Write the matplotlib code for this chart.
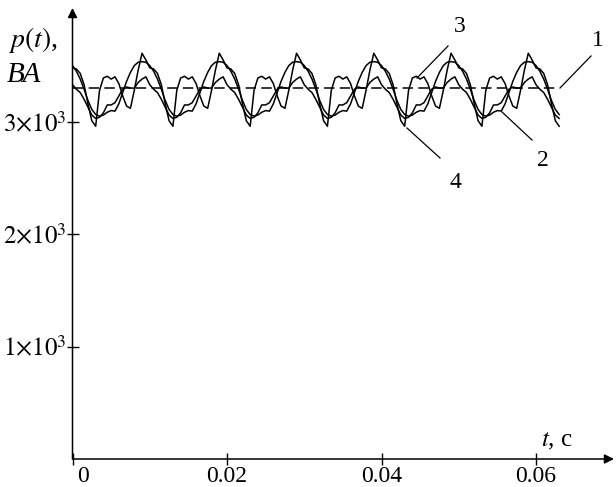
import numpy as np
import matplotlib
matplotlib.use("Agg")
import matplotlib.pyplot as plt
from matplotlib.transforms import ScaledTranslation

plt.rcParams['font.family'] = ['Liberation Serif', 'DejaVu Serif']
plt.rcParams['mathtext.fontset'] = 'stix'
plt.rcParams['lines.scale_dashes'] = False

# ---- data ----
t = np.round(np.arange(127) * 0.0005, 4)   # time, s

p_avg = 3300   # curve 1 (dashed, constant)

p2 = [3500, 3450, 3380, 3290, 3190, 3110, 3065, 3050, 3060, 3085, 3100, 3095, 3160, 3260, 3360, 3440, 3500, 3530,
      3535, 3530, 3500, 3450, 3380, 3290, 3190, 3110, 3065, 3050, 3060, 3085, 3100, 3095, 3160, 3260, 3360, 3440, 3500, 3530,
      3535, 3530, 3500, 3450, 3380, 3290, 3190, 3110, 3065, 3050, 3060, 3085, 3100, 3095, 3160, 3260, 3360, 3440, 3500, 3530,
      3535, 3530, 3500, 3450, 3380, 3290, 3190, 3110, 3065, 3050, 3060, 3085, 3100, 3095, 3160, 3260, 3360, 3440, 3500, 3530,
      3535, 3530, 3500, 3450, 3380, 3290, 3190, 3110, 3065, 3050, 3060, 3085, 3100, 3095, 3160, 3260, 3360, 3440, 3500, 3530,
      3535, 3530, 3500, 3450, 3380, 3290, 3190, 3110, 3065, 3050, 3060, 3085, 3100, 3095, 3160, 3260, 3360, 3440, 3500, 3530,
      3535, 3530, 3500, 3450, 3380, 3290, 3190, 3110, 3065]

p3 = [3330, 3290, 3260, 3200, 3130, 3060, 3030, 3040, 3080, 3150, 3150, 3170, 3230, 3290, 3310, 3300, 3300, 3350,
      3380, 3400, 3330, 3290, 3260, 3200, 3130, 3060, 3030, 3040, 3080, 3150, 3150, 3170, 3230, 3290, 3310, 3300, 3300, 3350,
      3380, 3400, 3330, 3290, 3260, 3200, 3130, 3060, 3030, 3040, 3080, 3150, 3150, 3170, 3230, 3290, 3310, 3300, 3300, 3350,
      3380, 3400, 3330, 3290, 3260, 3200, 3130, 3060, 3030, 3040, 3080, 3150, 3150, 3170, 3230, 3290, 3310, 3300, 3300, 3350,
      3380, 3400, 3330, 3290, 3260, 3200, 3130, 3060, 3030, 3040, 3080, 3150, 3150, 3170, 3230, 3290, 3310, 3300, 3300, 3350,
      3380, 3400, 3330, 3290, 3260, 3200, 3130, 3060, 3030, 3040, 3080, 3150, 3150, 3170, 3230, 3290, 3310, 3300, 3300, 3350,
      3380, 3400, 3330, 3290, 3260, 3200, 3130, 3060, 3030]

p4 = [3480, 3470, 3430, 3330, 3160, 3010, 2960, 3280, 3390, 3405, 3380, 3400, 3340, 3230, 3140, 3120, 3280, 3460,
      3610, 3550, 3480, 3470, 3430, 3330, 3160, 3010, 2960, 3280, 3390, 3405, 3380, 3400, 3340, 3230, 3140, 3120, 3280, 3460,
      3610, 3550, 3480, 3470, 3430, 3330, 3160, 3010, 2960, 3280, 3390, 3405, 3380, 3400, 3340, 3230, 3140, 3120, 3280, 3460,
      3610, 3550, 3480, 3470, 3430, 3330, 3160, 3010, 2960, 3280, 3390, 3405, 3380, 3400, 3340, 3230, 3140, 3120, 3280, 3460,
      3610, 3550, 3480, 3470, 3430, 3330, 3160, 3010, 2960, 3280, 3390, 3405, 3380, 3400, 3340, 3230, 3140, 3120, 3280, 3460,
      3610, 3550, 3480, 3470, 3430, 3330, 3160, 3010, 2960, 3280, 3390, 3405, 3380, 3400, 3340, 3230, 3140, 3120, 3280, 3460,
      3610, 3550, 3480, 3470, 3430, 3330, 3160, 3010, 2960]

x_ticks = [0, 0.02, 0.04, 0.06]
x_tick_labels = ["0", "0.02", "0.04", "0.06"]
y_ticks = [1000, 2000, 3000]
y_tick_labels = [r"$1{\times}10^{3}$", r"$2{\times}10^{3}$", r"$3{\times}10^{3}$"]

# ---- figure ----
W, H = 616, 487
fig = plt.figure(figsize=(W / 100, H / 100), dpi=100)
x0, y0 = 72.5, 459
ax = fig.add_axes([x0 / W, (H - y0) / H, (614 - x0) / W, (y0 - 8) / H])
ax.set_xlim(0, (614 - x0) / 7725)
ax.set_ylim(0, (y0 - 8) / 112.4 * 1000)

lw = 1.1
ax.plot([t[0], t[-1]], [p_avg, p_avg], color='k', lw=lw, dashes=(7.5, 3.8))
ax.plot(t, p2, color='k', lw=lw)
ax.plot(t, p3, color='k', lw=lw)
ax.plot(t, p4, color='k', lw=lw)

for s in ax.spines.values():
    s.set_visible(False)
ax.annotate('', xy=(1.0, 0), xytext=(0, 0), xycoords='axes fraction',
            arrowprops=dict(arrowstyle='-|>', lw=1.1, color='k', mutation_scale=14,
                            shrinkA=0, shrinkB=0))
ax.annotate('', xy=(0, 1.0), xytext=(0, 0), xycoords='axes fraction',
            arrowprops=dict(arrowstyle='-|>', lw=1.1, color='k', mutation_scale=14,
                            shrinkA=0, shrinkB=0))

ax.set_xticks(x_ticks)
ax.set_xticklabels(x_tick_labels)
ax.set_yticks(y_ticks)
ax.set_yticklabels(y_tick_labels)
ax.tick_params(direction='inout', length=8, width=1.0, labelsize=17, pad=2)
ax.tick_params(axis='y', pad=0)
ax.tick_params(axis='x', pad=1)
for lab in ax.get_yticklabels():
    lab.set_fontsize(18)
lab0 = ax.get_xticklabels()[0]
lab0.set_transform(lab0.get_transform() + ScaledTranslation(0.11, 0, fig.dpi_scale_trans))

def fx(px):
    return px / W

def fy(py):
    return 1 - py / H

# axis titles
fig.text(fx(8), fy(40), r"$p\left(t\right)$,", fontsize=20, va='center', ha='left')
fig.text(fx(7), fy(75), "ВА", fontsize=21, style='italic', va='center', ha='left')
fig.text(fx(541), fy(441), r"$t$, с", fontsize=18, va='center', ha='left')

# curve labels with pointer lines
lbl_fs = 17
fig.text(fx(598), fy(40), "1", fontsize=lbl_fs, ha='center', va='center')
fig.text(fx(460), fy(27), "3", fontsize=lbl_fs, ha='center', va='center')
fig.text(fx(543), fy(160), "2", fontsize=lbl_fs, ha='center', va='center')
fig.text(fx(455), fy(182), "4", fontsize=lbl_fs, ha='center', va='center')

def pointer(xa, ya, xb, yb):
    fig.add_artist(plt.Line2D([fx(xa), fx(xb)], [fy(ya), fy(yb)], color='k', lw=0.9,
                              transform=fig.transFigure))

pointer(591, 56, 560, 88)
pointer(448, 46, 417, 78)
pointer(532, 140, 502, 112)
pointer(440, 158, 407, 128)

fig.savefig("out.png", dpi=100)
